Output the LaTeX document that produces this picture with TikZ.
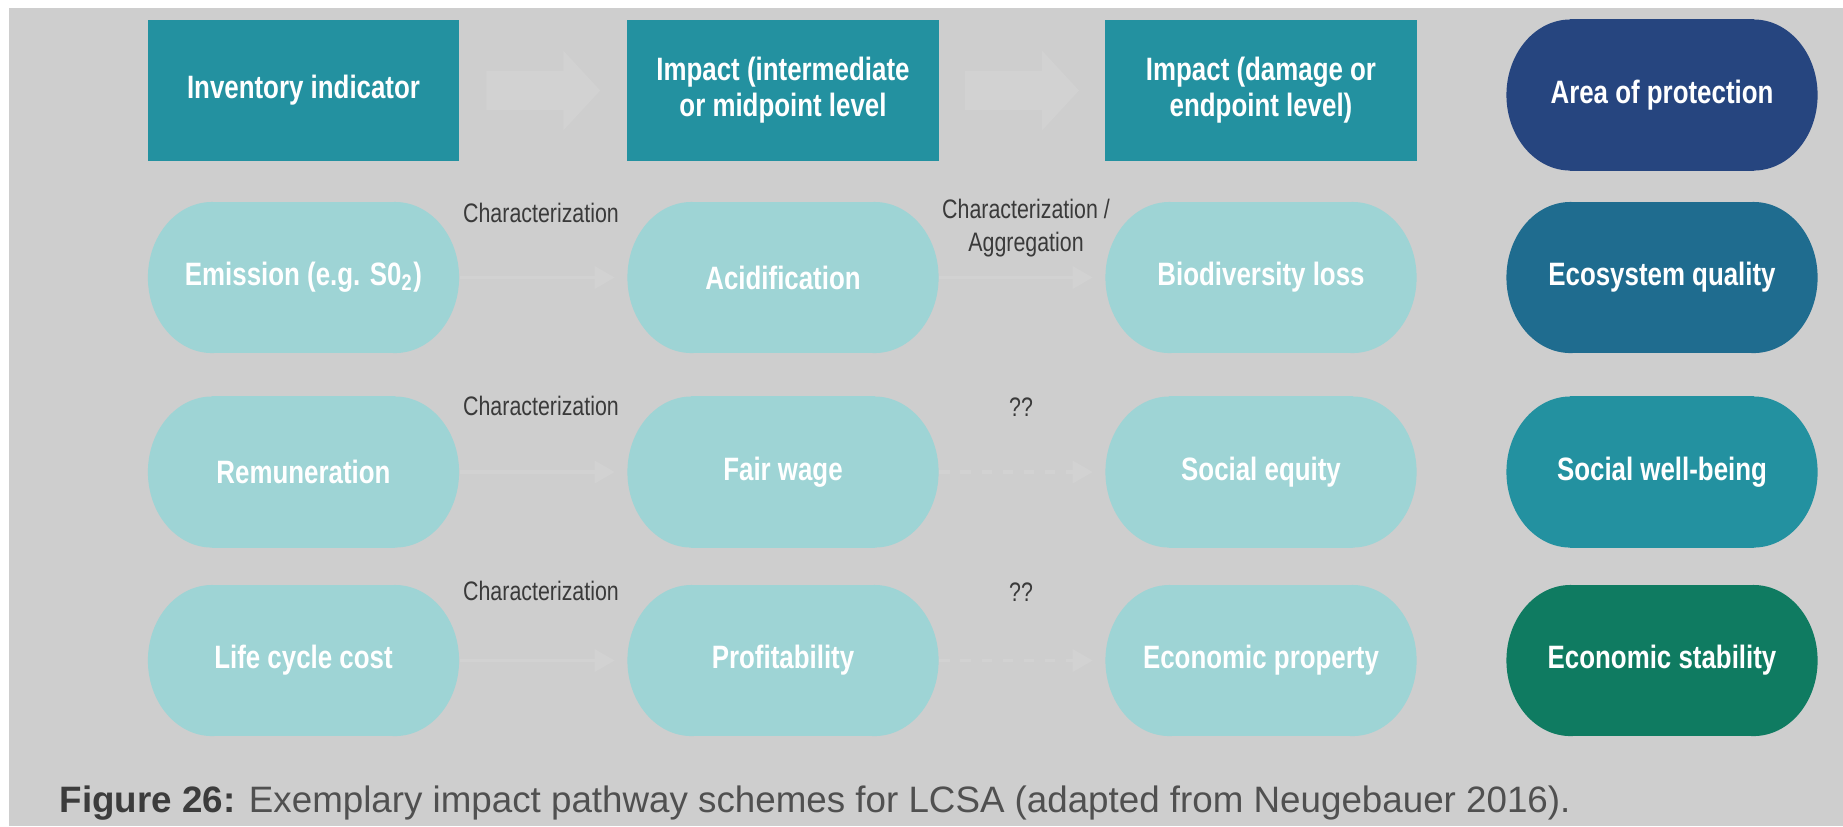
\documentclass[tikz,border=0pt]{standalone}
\usepackage{fontspec}
\setmainfont{Liberation Sans}
\newfontfamily\condfont[FakeStretch=0.8]{Liberation Sans}
\usetikzlibrary{arrows.meta,calc}
\definecolor{bggray}{HTML}{CECECE}
\definecolor{faint}{HTML}{D2D2D2}
\definecolor{hdrteal}{HTML}{2391A0}
\definecolor{lightteal}{HTML}{9ED4D5}
\definecolor{navy}{HTML}{26457F}
\definecolor{ecoblue}{HTML}{1F6C8F}
\definecolor{socteal}{HTML}{2391A0}
\definecolor{econgreen}{HTML}{0F7B61}
\definecolor{labgray}{HTML}{3A3A3A}
\definecolor{capdark}{HTML}{3C3C3C}
\definecolor{capgray}{HTML}{505050}
\tikzset{
  whitetext/.style={text=white, font=\condfont\bfseries\fontsize{9.2}{10.2}\selectfont, align=center, inner sep=0pt},
  hdr/.style={whitetext, rectangle, fill=hdrteal, minimum width=3.11cm, minimum height=1.41cm},
  pill/.style={whitetext, rectangle, minimum width=3.11cm, minimum height=1.51cm,
    path picture={
      \fill[#1] ($(path picture bounding box.north west)+(0.64cm,0)$) rectangle ($(path picture bounding box.south east)+(-0.64cm,0)$);
      \fill[#1] ($(path picture bounding box.west)+(0.64cm,0)$) ellipse [x radius=0.64cm, y radius=0.755cm];
      \fill[#1] ($(path picture bounding box.east)+(-0.64cm,0)$) ellipse [x radius=0.64cm, y radius=0.755cm];
    }},
  lab/.style={text=labgray, font=\condfont\fontsize{7.6}{9.2}\selectfont, align=center, inner sep=0pt},
  conn/.style={draw=faint, line width=1pt, shorten >=0.12cm, -{Triangle[length=0.2cm,width=0.22cm]}},
  blockarrow/.style={fill=faint},
}
\begin{document}
\begin{tikzpicture}[x=0.01cm,y=-0.01cm]
\useasboundingbox (0,0) rectangle (1843,826);
\fill[white] (0,0) rectangle (1843,826);
\fill[bggray] (9,8) rectangle (1843,826);

% header row
\node[hdr] (h1) at (303.5,90.5) {Inventory indicator};
\node[hdr] (h2) at (783,90.5) {Impact (intermediate\\or midpoint level};
\node[hdr] (h3) at (1261,90.5) {Impact (damage or\\endpoint level)};
\node[pill=navy] (h4) at (1662,95) {Area of protection};

% block arrows between headers
\coordinate (m1) at ($(h1.east)!0.5!(h2.west)$);
\coordinate (m2) at ($(h2.east)!0.5!(h3.west)$);
\foreach \m in {m1,m2}{
  \fill[blockarrow] ([shift={(-57,-19.5)}]\m) -- ++(77,0) -- ++(0,-20.5) -- ++(37,40) -- ++(-37,40) -- ++(0,-20.5) -- ++(-77,0) -- cycle;
}

% row 1
\node[pill=lightteal] (r1c1) at (303.5,277.5) {Emission (e.g. S0\textsubscript{2})};
\node[pill=lightteal] (r1c2) at (783,277.5) {Acidification};
\node[pill=lightteal] (r1c3) at (1261,277.5) {Biodiversity loss};
\node[pill=ecoblue] (r1c4) at (1662,277.5) {Ecosystem quality};

% row 2
\node[pill=lightteal] (r2c1) at (303.5,472) {Remuneration};
\node[pill=lightteal] (r2c2) at (783,472) {Fair wage};
\node[pill=lightteal] (r2c3) at (1261,472) {Social equity};
\node[pill=socteal] (r2c4) at (1662,472) {Social well-being};

% row 3
\node[pill=lightteal] (r3c1) at (303.5,660.5) {Life cycle cost};
\node[pill=lightteal] (r3c2) at (783,660.5) {Profitability};
\node[pill=lightteal] (r3c3) at (1261,660.5) {Economic property};
\node[pill=econgreen] (r3c4) at (1662,660.5) {Economic stability};

% faint connectors
\draw[conn] (r1c1) -- (r1c2);
\draw[conn] (r1c2) -- (r1c3);
\draw[conn] (r2c1) -- (r2c2);
\draw[conn, dashed] (r2c2) -- (r2c3);
\draw[conn] (r3c1) -- (r3c2);
\draw[conn, dashed] (r3c2) -- (r3c3);

% labels
\node[lab] (l11) at (541,213) {Characterization};
\node[lab] (l12) at (1026,228) {Characterization /\\Aggregation};
\node[lab] (l21) at (541,406) {Characterization};
\node[lab] (l22) at (1021,407) {??};
\node[lab] (l31) at (541,591) {Characterization};
\node[lab] (l32) at (1021,592) {??};

% caption
\node[anchor=west, inner sep=0pt, text=capgray, font=\fontsize{10.45}{12}\selectfont] (cap) at (59,803)
  {\textcolor{capdark}{\bfseries Figure 26:} Exemplary impact pathway schemes for LCSA (adapted from Neugebauer 2016).};
\end{tikzpicture}
\end{document}
